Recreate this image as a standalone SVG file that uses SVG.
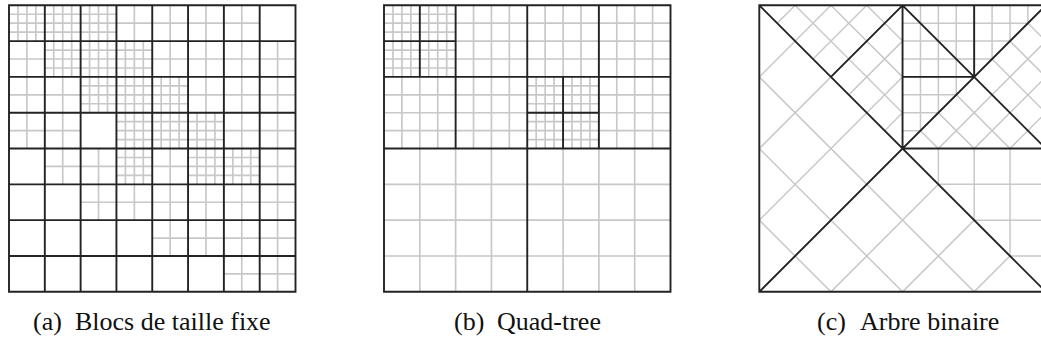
<svg xmlns="http://www.w3.org/2000/svg" width="1041" height="347" viewBox="0 0 1041 347">
<style>
.g{fill:none;stroke:#c8c8c8;stroke-width:1.5;vector-effect:non-scaling-stroke}
.d{fill:none;stroke:#232323;stroke-width:1.9;vector-effect:non-scaling-stroke;stroke-linejoin:miter}
.g use,.g path{vector-effect:non-scaling-stroke}
.cap{font-family:"Liberation Serif","Times New Roman",serif;font-size:26px;fill:#111}
</style>
<defs>
<path id="f8" d="M8 0V32M16 0V32M24 0V32M0 8H32M0 16H32M0 24H32"/>
<path id="h16" d="M16 0V32M0 16H32"/>
<path id="g16" d="M16 0V64M32 0V64M48 0V64M0 16H64M0 32H64M0 48H64"/>
<path id="g32" d="M32 0V128M64 0V128M96 0V128M0 32H128M0 64H128M0 96H128"/>
<clipPath id="cLB" clipPathUnits="userSpaceOnUse"><polygon points="0,0 0,256 256,256 128,128"/></clipPath>
<clipPath id="cT1" clipPathUnits="userSpaceOnUse"><polygon points="0,0 128,0 128,128"/></clipPath>
<clipPath id="cT2" clipPathUnits="userSpaceOnUse"><polygon points="128,0 256,0 128,128"/></clipPath>
<clipPath id="cR" clipPathUnits="userSpaceOnUse"><polygon points="128,128 256,0 256,128"/></clipPath>
<clipPath id="cBR" clipPathUnits="userSpaceOnUse"><polygon points="128,128 256,128 256,256"/></clipPath>
</defs>

<g id="panel-a" transform="translate(9 5.3) scale(1.11914)">
<g class="g">
<use href="#f8" x="0" y="0"/><use href="#f8" x="32" y="0"/><use href="#f8" x="64" y="0"/>
<use href="#h16" x="96" y="0"/><use href="#h16" x="128" y="0"/><use href="#h16" x="160" y="0"/><use href="#h16" x="192" y="0"/>
<use href="#h16" x="0" y="32"/><use href="#f8" x="32" y="32"/><use href="#f8" x="64" y="32"/><use href="#f8" x="96" y="32"/>
<use href="#h16" x="128" y="32"/><use href="#h16" x="160" y="32"/><use href="#h16" x="192" y="32"/><use href="#h16" x="224" y="32"/>
<use href="#h16" x="0" y="64"/><use href="#h16" x="32" y="64"/><use href="#f8" x="64" y="64"/><use href="#f8" x="96" y="64"/><use href="#f8" x="128" y="64"/>
<use href="#h16" x="160" y="64"/><use href="#h16" x="192" y="64"/><use href="#h16" x="224" y="64"/>
<use href="#h16" x="0" y="96"/><use href="#h16" x="32" y="96"/><use href="#f8" x="96" y="96"/><use href="#f8" x="128" y="96"/><use href="#f8" x="160" y="96"/>
<use href="#h16" x="192" y="96"/><use href="#h16" x="224" y="96"/>
<use href="#h16" x="32" y="128"/><use href="#h16" x="64" y="128"/><use href="#f8" x="96" y="128"/><use href="#h16" x="128" y="128"/>
<use href="#f8" x="160" y="128"/><use href="#f8" x="192" y="128"/><use href="#h16" x="224" y="128"/>
<use href="#h16" x="64" y="160"/><use href="#h16" x="96" y="160"/><use href="#h16" x="128" y="160"/><use href="#h16" x="160" y="160"/><use href="#h16" x="192" y="160"/><use href="#h16" x="224" y="160"/>
<use href="#h16" x="128" y="192"/><use href="#h16" x="160" y="192"/><use href="#h16" x="192" y="192"/><use href="#h16" x="224" y="192"/>
<use href="#h16" x="192" y="224"/><use href="#h16" x="224" y="224"/>
</g>
<path class="d" d="M0 0H256V256H0Z M32 0V256M64 0V256M96 0V256M128 0V256M160 0V256M192 0V256M224 0V256 M0 32H256M0 64H256M0 96H256M0 128H256M0 160H256M0 192H256M0 224H256"/>
</g>

<g id="panel-b" transform="translate(384 5.3) scale(1.11914)">
<g class="g">
<use href="#f8" x="0" y="0"/><use href="#f8" x="32" y="0"/><use href="#f8" x="0" y="32"/><use href="#f8" x="32" y="32"/>
<use href="#f8" x="128" y="64"/><use href="#f8" x="160" y="64"/><use href="#f8" x="128" y="96"/><use href="#f8" x="160" y="96"/>
<use href="#g16" x="64" y="0"/><use href="#g16" x="0" y="64"/><use href="#g16" x="64" y="64"/>
<use href="#g16" x="128" y="0"/><use href="#g16" x="192" y="0"/><use href="#g16" x="192" y="64"/>
<use href="#g32" x="0" y="128"/><use href="#g32" x="128" y="128"/>
</g>
<path class="d" d="M0 0H256V256H0Z M128 0V256M0 128H256 M64 0V128M0 64H256M192 0V128 M32 0V64M0 32H64 M160 64V128M128 96H192"/>
</g>

<g id="panel-c" transform="translate(759.3 5.3) scale(1.11914)">
<path class="g" clip-path="url(#cLB)" d="M0 64L64 0M0 128L128 0M0 192L192 0M64 256L256 64M128 256L256 128M192 256L256 192 M0 64L192 256M0 128L128 256M0 192L64 256"/>
<path class="g" clip-path="url(#cT1)" d="M0 32L32 0M0 64L64 0M0 96L96 0M32 128L160 0M64 128L192 0M96 128L224 0 M32 0L160 128M64 0L192 128M96 0L224 128"/>
<path class="g" clip-path="url(#cT2)" d="M144 0V128M160 0V128M176 0V128M192 0V128M208 0V128M224 0V128M240 0V128 M128 16H256M128 32H256M128 48H256M128 64H256M128 80H256M128 96H256M128 112H256"/>
<path class="g" clip-path="url(#cR)" d="M160 128L256 32M192 128L256 64M224 128L256 96 M32 0L160 128M64 0L192 128M96 0L224 128M160 0L288 128M192 0L320 128M224 0L352 128"/>
<path class="g" clip-path="url(#cBR)" d="M160 128V256M192 128V256M224 128V256M128 160H256M128 192H256M128 224H256"/>
<path class="d" d="M0 0H256V256H0Z M0 0L256 256M0 256L256 0 M128 0V128H256 M128 0L256 128 M64 64L128 0 M192 0V64H128"/>
</g>

<g id="captions" class="cap">
<text x="33" y="330">(a)</text><text x="75" y="330">Blocs de taille fixe</text>
<text x="454" y="330">(b)</text><text x="497" y="330">Quad-tree</text>
<text x="817" y="330">(c)</text><text x="860" y="330">Arbre binaire</text>
</g>
</svg>
